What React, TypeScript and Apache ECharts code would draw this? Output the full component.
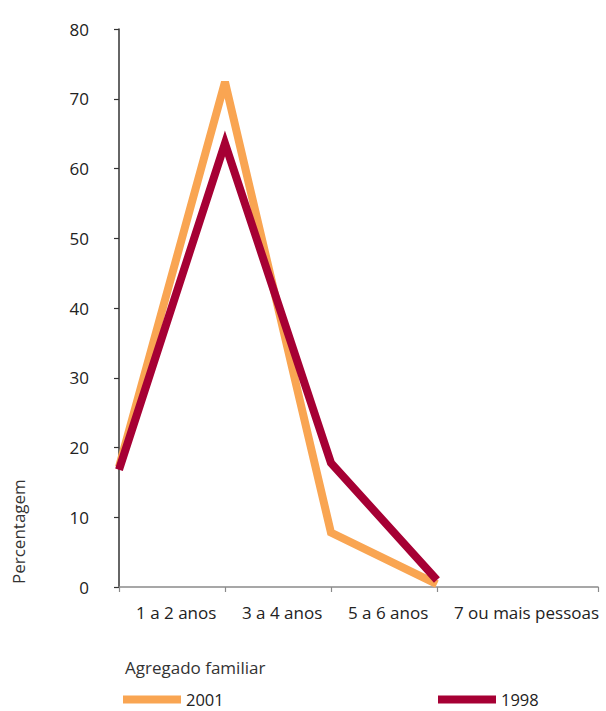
import React, { useEffect, useRef } from "react";
import * as echarts from "echarts";

const categories = ["1 a 2 anos", "3 a 4 anos", "5 a 6 anos", "7 ou mais pessoas"];
const values2001 = [17.2, 72.4, 7.8, 0.4];
const values1998 = [16.8, 63.6, 17.8, 1.0];
const yTicks = [0, 10, 20, 30, 40, 50, 60, 70, 80];
const seriesNames = ["2001", "1998"];

const FONT = "'Open Sans', 'Noto Sans', sans-serif";
const FS = 17;
const ORANGE = "#F9A552";
const CRIMSON = "#A60034";
const X_MAX = 4.52;

export default function App() {
  const ref = useRef<HTMLDivElement>(null);
  useEffect(() => {
    if (!ref.current) return;
    const chart = echarts.init(ref.current, null, { renderer: "svg" });
    const lineStyle = (color: string) => ({
      color,
      width: 8,
      join: "miter" as const,
      miterLimit: 3.6,
      cap: "butt" as const,
    });
    const legendText = { fontSize: 16.5, fontFamily: FONT, color: "#222", lineHeight: 16 };
    chart.setOption({
      animation: false,
      backgroundColor: "#fff",
      grid: { left: 119, right: 8, top: 29, bottom: 124, containLabel: false },
      xAxis: {
        type: "value",
        min: 0,
        max: X_MAX,
        splitLine: { show: false },
        axisLine: { show: true, lineStyle: { color: "#8a8a8a", width: 1.5 } },
        axisTick: {
          show: true,
          length: 5,
          customValues: [0, 1, 2, 3, X_MAX],
          lineStyle: { color: "#8a8a8a", width: 1.2 },
        },
        axisLabel: {
          customValues: categories.map((_, i) => i),
          formatter: (v: number) => categories[Math.round(v)] ?? "",
          align: "left",
          padding: [0, 0, 0, 17],
          margin: 17,
          fontSize: FS,
          fontFamily: FONT,
          color: "#222",
        },
      },
      yAxis: {
        type: "value",
        min: yTicks[0],
        max: yTicks[yTicks.length - 1],
        interval: 10,
        splitLine: { show: false },
        axisLine: { show: true, lineStyle: { color: "#333", width: 1.5 } },
        axisTick: { show: true, length: 5, lineStyle: { color: "#333", width: 1.2 } },
        axisLabel: {
          margin: 30,
          fontSize: FS,
          fontFamily: FONT,
          color: "#222",
        },
      },
      legend: [
        {
          data: [seriesNames[0]],
          left: 123,
          top: 691,
          padding: 0,
          icon: "rect",
          itemWidth: 58,
          itemHeight: 8,
          itemGap: 0,
          textStyle: legendText,
        },
        {
          data: [seriesNames[1]],
          left: 438,
          top: 691,
          padding: 0,
          icon: "rect",
          itemWidth: 58,
          itemHeight: 8,
          itemGap: 0,
          textStyle: legendText,
        },
      ],
      graphic: [
        {
          type: "text",
          x: 18,
          y: 584,
          rotation: Math.PI / 2,
          style: {
            text: "Percentagem",
            fontSize: FS,
            fontFamily: FONT,
            fill: "#333",
            textAlign: "left",
            textVerticalAlign: "middle",
          },
        },
        {
          type: "text",
          x: 125,
          y: 667,
          style: {
            text: "Agregado familiar",
            fontSize: FS,
            fontFamily: FONT,
            fill: "#333",
            textAlign: "left",
            textVerticalAlign: "middle",
          },
        },
      ],
      series: [
        {
          name: seriesNames[0],
          type: "line",
          data: values2001.map((v, i) => [i, v]),
          showSymbol: false,
          symbol: "none",
          color: ORANGE,
          lineStyle: lineStyle(ORANGE),
          z: 2,
        },
        {
          name: seriesNames[1],
          type: "line",
          data: values1998.map((v, i) => [i, v]),
          showSymbol: false,
          symbol: "none",
          color: CRIMSON,
          lineStyle: lineStyle(CRIMSON),
          z: 3,
        },
      ],
    });
    return () => chart.dispose();
  }, []);
  return <div ref={ref} style={{ width: 606, height: 711, position: "absolute", left: 0, top: 0 }} />;
}
